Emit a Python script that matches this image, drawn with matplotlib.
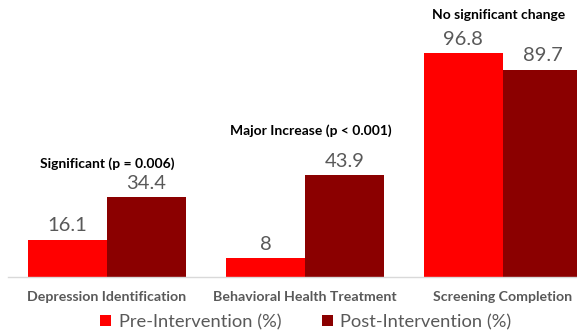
import matplotlib
matplotlib.use("Agg")
import matplotlib.pyplot as plt
import numpy as np

categories = ["Depression Identification", "Behavioral Health Treatment", "Screening Completion"]
pre_values = [16.1, 8, 96.8]
post_values = [34.4, 43.9, 89.7]
series_names = ["Pre-Intervention (%)", "Post-Intervention (%)"]
notes = ["Significant (p = 0.006)", "Major Increase (p < 0.001)", "No significant change"]

plt.rcParams["font.family"] = ["Lato", "DejaVu Sans"]

PRE_COLOR = "#ff0000"
POST_COLOR = "#8b0000"
TEXT_GRAY = "#595959"

fig = plt.figure(figsize=(5.77, 3.33), dpi=100)
ax = fig.add_axes([8 / 577, 0.169, 1 - 8 / 577, 0.831])

x = np.arange(len(categories))
w = 0.4
b1 = ax.bar(x - w / 2, pre_values, w, color=PRE_COLOR, label=series_names[0])
b2 = ax.bar(x + w / 2, post_values, w, color=POST_COLOR, label=series_names[1])

for bars, vals in ((b1, pre_values), (b2, post_values)):
    for bar, v in zip(bars, vals):
        ax.annotate(f"{v:g}", (bar.get_x() + bar.get_width() / 2, v),
                    xytext=(0, 4), textcoords="offset points",
                    ha="center", va="bottom", fontsize=14.5, color=TEXT_GRAY)

note_x = [0.0, 1.03, 1.98]
note_y = [48.8, 63.1, 113.4]
for nx, ny, t in zip(note_x, note_y, notes):
    ax.text(nx, ny, t, ha="center", va="center", fontsize=10,
            fontweight="bold", color="black")

ax.set_xlim(-0.5, 2.374)
ax.set_ylim(0, 119.9)
ax.set_xticks(x)
ax.set_xticklabels(categories, fontsize=10.2, fontweight="bold", color=TEXT_GRAY)
ax.tick_params(axis="x", length=0, pad=10)
ax.set_yticks([])
for s in ("top", "right", "left"):
    ax.spines[s].set_visible(False)
ax.spines["bottom"].set_color("#d9d9d9")
ax.spines["bottom"].set_linewidth(1)

leg = fig.legend(handles=[b1, b2], loc="center", bbox_to_anchor=(0.53, 0.033),
                 ncol=2, frameon=False, fontsize=13.2, handlelength=0.6,
                 handleheight=0.6, handletextpad=0.4, columnspacing=2.2)
for t in leg.get_texts():
    t.set_color(TEXT_GRAY)

fig.savefig("out.png", dpi=100)
